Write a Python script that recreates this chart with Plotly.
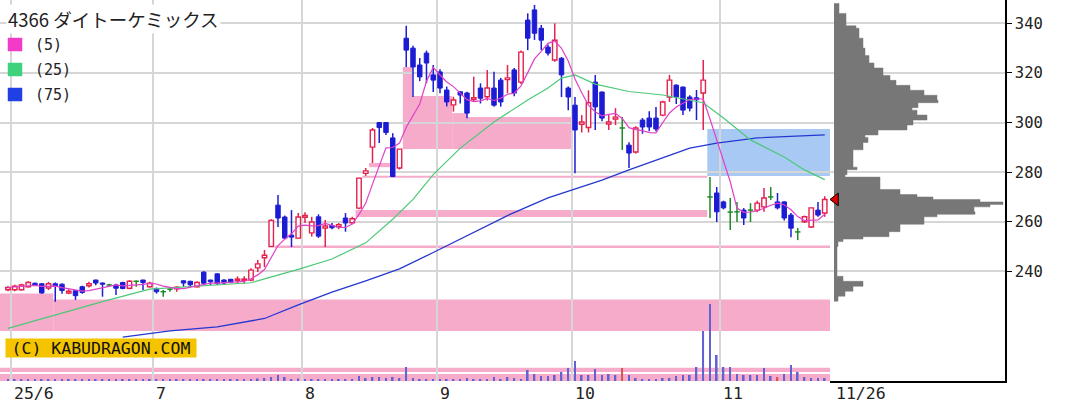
import plotly.graph_objects as go
import pandas as pd

# ---------------- data ----------------
title_text = "4366 ダイトーケミックス"
ma_labels = ["(5)", "(25)", "(75)"]
month_labels = ["25/6", "7", "8", "9", "10", "11"]
month_start_idx = [1, 22, 44, 64, 84, 106]
last_date_label = "11/26"
price_ticks = [240, 260, 280, 300, 320, 340]

opens = [
    232.6, 232.6, 232.6, 233.8, 235.2, 235.0, 233.3, 235.0, 234.8, 231.3,
    232.2, 233.8, 234.2, 236.5, 235.3, 234.5, 234.5, 235.5, 233.2, 236.0,
    236.5, 233.8, 233.1, 231.8, 232.8, 233.0, 236.2, 236.0, 233.8, 239.7,
    236.5, 239.0, 236.5, 236.8, 236.4, 236.4, 236.5, 241.4, 245.5, 250.0,
    266.7, 261.9, 254.6, 253.4, 261.8, 255.5, 262.0, 257.5, 258.5, 258.0,
    261.5, 259.6, 265.5, 279.5, 290.1, 300.0, 300.0, 293.8, 281.7, 334.0,
    330.0, 323.2, 328.0, 319.2, 320.4, 313.1, 307.1, 312.4, 311.9, 309.3,
    313.9, 310.4, 313.9, 317.1, 317.3, 321.2, 316.3, 341.3, 345.4, 338.0,
    330.4, 325.2, 325.9, 313.9, 307.0, 299.3, 298.0, 316.3, 312.3, 299.4,
    301.4, 297.8, 290.9, 288.1, 301.0, 301.8, 301.8, 303.0, 310.3, 315.1,
    314.3, 310.3, 310.0, 311.9, 270.0, 271.6, 268.0, 263.9, 264.0, 264.7,
    264.7, 264.7, 266.0, 270.0, 268.0, 268.0, 262.7, 255.9, 260.0, 257.9,
    264.7, 263.5]
highs = [
    234.0, 234.6, 235.0, 236.0, 235.5, 235.3, 235.8, 235.5, 235.2, 232.8,
    232.5, 234.2, 235.8, 236.6, 235.5, 235.0, 235.0, 235.8, 236.5, 236.3,
    236.6, 235.8, 233.5, 232.5, 233.5, 234.0, 236.4, 236.2, 236.0, 240.0,
    236.6, 239.2, 236.8, 237.0, 238.0, 238.0, 241.3, 244.6, 248.6, 261.0,
    270.8, 262.5, 264.7, 263.5, 263.8, 262.0, 263.0, 260.7, 259.5, 259.5,
    263.5, 262.0, 277.7, 281.7, 297.8, 300.2, 300.2, 295.7, 289.3, 339.0,
    331.0, 326.0, 329.0, 323.2, 321.5, 314.5, 310.4, 312.6, 312.4, 318.5,
    315.8, 321.2, 320.5, 318.0, 323.2, 322.0, 329.0, 344.0, 347.4, 339.3,
    331.5, 340.0, 326.4, 314.5, 310.3, 303.0, 313.0, 319.2, 312.5, 303.0,
    305.8, 302.2, 292.1, 298.5, 301.8, 304.5, 306.3, 308.8, 319.2, 315.3,
    314.5, 311.0, 313.1, 325.2, 278.0, 274.0, 268.5, 269.6, 268.0, 265.5,
    267.5, 268.5, 273.6, 274.0, 271.6, 268.2, 263.5, 257.5, 262.5, 265.6,
    268.0, 270.3]
lows = [
    232.0, 232.0, 232.3, 233.5, 234.2, 231.0, 232.5, 227.8, 231.0, 230.8,
    228.5, 231.0, 233.5, 234.4, 229.8, 234.0, 230.5, 232.8, 232.8, 233.8,
    232.5, 233.5, 231.0, 229.8, 231.8, 231.8, 233.8, 233.6, 233.5, 234.8,
    234.5, 234.5, 234.6, 235.2, 235.2, 235.0, 236.0, 239.7, 241.7, 249.8,
    257.9, 253.0, 249.8, 253.0, 259.5, 254.0, 253.5, 249.8, 257.0, 257.0,
    256.0, 259.0, 265.0, 278.5, 283.7, 291.7, 295.0, 278.0, 281.0, 322.4,
    310.3, 316.7, 315.9, 312.3, 311.8, 306.5, 304.4, 307.7, 301.7, 308.5,
    307.7, 308.9, 306.4, 306.4, 311.8, 310.6, 315.5, 329.2, 333.3, 329.2,
    327.0, 324.5, 310.3, 305.0, 279.6, 296.0, 296.0, 297.0, 300.5, 297.0,
    299.0, 288.9, 281.7, 287.5, 295.5, 296.5, 296.5, 302.5, 308.3, 307.5,
    303.0, 304.5, 301.0, 297.0, 261.5, 259.9, 265.0, 256.7, 259.9, 258.7,
    259.9, 263.8, 264.0, 268.8, 265.0, 260.5, 253.8, 252.6, 259.5, 257.5,
    262.0, 262.0]
closes = [
    233.5, 234.0, 234.5, 235.5, 234.4, 231.3, 235.0, 234.2, 232.3, 232.0,
    230.2, 231.5, 235.0, 235.3, 234.8, 234.5, 233.2, 233.1, 236.0, 236.0,
    235.5, 235.2, 231.8, 231.8, 232.8, 233.6, 235.3, 234.6, 235.5, 235.2,
    235.8, 235.2, 235.3, 235.6, 236.9, 236.9, 240.5, 243.0, 246.5, 260.5,
    261.5, 253.4, 253.8, 261.9, 262.5, 259.9, 254.2, 258.3, 257.6, 258.8,
    259.5, 261.2, 277.6, 280.5, 297.0, 298.0, 296.0, 278.2, 289.3, 329.2,
    322.4, 318.4, 324.0, 317.1, 313.9, 308.3, 309.1, 311.1, 303.8, 310.0,
    309.8, 313.9, 307.0, 308.3, 318.0, 311.9, 328.4, 334.0, 336.0, 333.2,
    328.0, 333.2, 319.2, 310.3, 297.0, 300.2, 308.0, 306.3, 301.8, 300.2,
    302.2, 297.8, 287.7, 297.8, 298.2, 298.2, 297.4, 308.3, 317.1, 310.3,
    305.0, 305.8, 309.2, 317.1, 270.0, 264.0, 265.6, 263.9, 264.0, 261.5,
    264.7, 267.5, 269.6, 270.0, 265.6, 261.5, 257.4, 255.9, 262.0, 265.6,
    262.7, 269.0]
volumes = [
    15, 15, 15, 15, 15, 20, 15, 20, 15, 15, 20, 15, 15, 15, 20, 15, 15, 15,
    15, 15, 15, 15, 15, 15, 15, 15, 15, 15, 15, 20, 15, 20, 15, 15, 15, 15,
    20, 25, 30, 40, 60, 40, 20, 25, 20, 20, 20, 20, 15, 15, 20, 20, 50, 30,
    40, 40, 30, 40, 30,
    140, 30, 20, 20, 20, 20, 20, 15, 20, 30, 20, 20, 20, 40, 20, 40, 30, 20,
    110, 70, 50, 50, 60, 90, 130, 200, 60, 60, 120, 60, 70, 60, 130, 60, 30,
    20, 20, 20, 30, 30, 50, 60, 60, 140, 500, 770, 260, 140, 140, 70, 60, 60,
    60, 130, 50, 40, 70, 160, 90, 40, 30, 30, 30]
vol_red_idx = [91, 114]

ma25_idx = [0, 6, 14, 21, 28, 36, 38, 43, 48, 53, 57, 60, 63, 67, 72, 77, 80,
            82, 84, 87, 92, 97, 103, 106, 110, 115, 118, 121]
ma25_val = [217.0, 221.7, 227.8, 232.8, 234.1, 235.4, 237.0, 240.8, 245.0,
            251.5, 261.0, 269.0, 279.0, 289.7, 300.2, 309.1, 313.9, 317.9,
            319.2, 315.5, 312.5, 311.1, 308.0, 301.8, 293.0, 286.1, 280.9, 277.0]
ma75_idx = [17, 24, 31, 38, 43, 48, 53, 58, 63, 68, 74, 80, 88, 92, 101, 105,
            111, 121]
ma75_val = [213.5, 216.0, 217.6, 221.0, 226.5, 231.6, 236.2, 241.0, 247.6,
            254.5, 262.5, 269.6, 276.8, 280.9, 289.7, 291.7, 293.8, 295.0]

# price profile (volume by price), one value per 1-yen bin from profile_price_low
profile_price_low = 228
profile_vol = [
    4, 4, 11, 11, 19, 19, 29, 29, 9, 9,
    3, 3, 3, 3, 3, 3, 3, 3, 3, 3,
    3, 3, 4, 4, 9, 29, 55, 55, 66, 66,
    66, 90, 90, 90, 103, 141, 140, 140, 156, 169,
    146, 99, 83, 66, 66, 46, 46, 46, 46, 46,
    11, 13, 13, 23, 19, 19, 19, 19, 19, 19,
    19, 29, 29, 29, 34, 34, 31, 44, 44, 73,
    73, 79, 79, 93, 93, 83, 83, 78, 84, 84,
    104, 103, 103, 90, 90, 76, 76, 62, 62, 56,
    56, 49, 49, 49, 40, 40, 35, 35, 35, 31,
    31, 31, 29, 29, 29, 29, 25, 25, 25, 25,
    22, 12, 12, 12, 12, 12, 5, 5, 5, 5]

# price gaps (windows); end None = still open to the right edge
gap_start = [None, 6.7, 39.5, 51.5, 52.5, 53.5, 58.5, 59.85, 65.8, 68.0, 103.6]
gap_end = [6.7, None, None, 103.6, 103.6, 56.6, 59.85, 65.8, 68.0, 83.55, None]
gap_low = [216.0, 216.0, 249.4, 261.9, 277.7, 282.0, 289.3, 289.3, 289.3, 289.3, 278.4]
gap_high = [231.1, 228.7, 250.4, 264.7, 278.5, 283.7, 322.4, 310.7, 303.8, 302.2, 297.4]
gap_dir = ["up"] * 10 + ["down"]

vol_band_low = [0, 90]
vol_band_high = [70, 133]

# ---------------- layout constants ----------------
W, H = 1005, 381          # plot area in px
X_LO, X_HI = -1.185, 121.78
MAIN_FRAC = 830 / W
RED, BLUE, GREEN = "#e4224e", "#1c1cd4", "#1f8a2a"
PINK_BAND, BLUE_BAND = "#f6abcb", "#a9c9f5"
GRID = "#d6d6d6"
MONO = "DejaVu Sans Mono"


def fx(px):
    return px / W


def fy(py):
    return (H - py) / H


n = len(closes)
idx = list(range(n))
ma5 = pd.Series(closes).rolling(5, min_periods=1).mean().tolist()

up = [i for i in idx if closes[i] > opens[i]]
down = [i for i in idx if closes[i] < opens[i]]
doji = [i for i in idx if closes[i] == opens[i]]


def wicks(ids):
    xs, ys = [], []
    for i in ids:
        lo_b, hi_b = min(opens[i], closes[i]), max(opens[i], closes[i])
        xs += [i, i, None, i, i, None]
        ys += [lows[i], lo_b, None, hi_b, highs[i], None]
    return xs, ys


def doji_lines(ids):
    xs, ys = [], []
    for i in ids:
        xs += [i, i, None, i - 0.4, i + 0.4, None]
        ys += [lows[i], highs[i], None, closes[i], closes[i], None]
    return xs, ys


def profile_outline():
    xs, ys = [0], [profile_price_low]
    for k, v in enumerate(profile_vol):
        xs += [v, v]
        ys += [profile_price_low + k, profile_price_low + k + 1]
    xs.append(0)
    ys.append(profile_price_low + len(profile_vol))
    return xs, ys


fig = go.Figure()

# volume
fig.add_trace(go.Bar(
    x=idx, y=volumes, width=0.24, xaxis="x", yaxis="y2",
    marker=dict(color=["#d45858" if i in vol_red_idx else "#6262d4" for i in idx],
                line=dict(width=0)),
    hoverinfo="skip", showlegend=False))

# candles: wicks
for ids, col in ((up, RED), (down, BLUE)):
    wx, wy = wicks(ids)
    fig.add_trace(go.Scatter(x=wx, y=wy, mode="lines", line=dict(color=col, width=1.5),
                             xaxis="x", yaxis="y", hoverinfo="skip", showlegend=False))
dx, dy = doji_lines(doji)
fig.add_trace(go.Scatter(x=dx, y=dy, mode="lines", line=dict(color=GREEN, width=1.5),
                         xaxis="x", yaxis="y", hoverinfo="skip", showlegend=False))

# candles: bodies
fig.add_trace(go.Bar(
    x=up, y=[closes[i] - opens[i] for i in up], base=[opens[i] for i in up],
    width=0.66, xaxis="x", yaxis="y",
    marker=dict(color="white", line=dict(color=RED, width=1.4)),
    hoverinfo="skip", showlegend=False))
fig.add_trace(go.Bar(
    x=down, y=[opens[i] - closes[i] for i in down], base=[closes[i] for i in down],
    width=0.66, xaxis="x", yaxis="y",
    marker=dict(color=BLUE, line=dict(color=BLUE, width=1)),
    hoverinfo="skip", showlegend=False))

# moving averages
fig.add_trace(go.Scatter(x=ma75_idx, y=ma75_val, mode="lines", line=dict(color="#2438d0", width=1.3),
                         xaxis="x", yaxis="y", hoverinfo="skip", showlegend=False))
fig.add_trace(go.Scatter(x=ma25_idx, y=ma25_val, mode="lines", line=dict(color="#4cc878", width=1.2),
                         xaxis="x", yaxis="y", hoverinfo="skip", showlegend=False))
fig.add_trace(go.Scatter(x=idx, y=ma5, mode="lines", line=dict(color="#e040c8", width=1.2),
                         xaxis="x", yaxis="y", hoverinfo="skip", showlegend=False))

# price profile (step outline filled)
px_, py_ = profile_outline()
fig.add_trace(go.Scatter(
    x=px_, y=py_, mode="lines", fill="toself", fillcolor="#777777",
    line=dict(color="#777777", width=0.5), xaxis="x2", yaxis="y",
    hoverinfo="skip", showlegend=False))

# current price marker
fig.add_trace(go.Scatter(
    x=[1.5], y=[closes[-1]], mode="markers", xaxis="x2", yaxis="y", cliponaxis=False,
    marker=dict(symbol="triangle-left", size=11, color="#e00000", line=dict(color="black", width=1)),
    hoverinfo="skip", showlegend=False))

shapes = []
for s, e, lo, hi, d in zip(gap_start, gap_end, gap_low, gap_high, gap_dir):
    shapes.append(dict(type="rect", xref="x", yref="y",
                       x0=X_LO if s is None else s, x1=X_HI if e is None else e,
                       y0=lo, y1=hi, fillcolor=PINK_BAND if d == "up" else BLUE_BAND,
                       line=dict(width=0), layer="below"))
for lo, hi in zip(vol_band_low, vol_band_high):
    shapes.append(dict(type="rect", xref="x", yref="y2", x0=X_LO, x1=X_HI, y0=lo, y1=hi,
                       fillcolor=PINK_BAND, line=dict(width=0), layer="below"))

# legend box and colour squares
shapes.append(dict(type="rect", xref="paper", yref="paper", x0=fx(5), x1=fx(78),
                   y0=fy(106), y1=fy(31), fillcolor="white", line=dict(width=0), layer="below"))
for k, col in enumerate(["#f23cc8", "#3ed27c", "#2040e4"]):
    top = 38 + 25 * k
    shapes.append(dict(type="rect", xref="paper", yref="paper", x0=fx(8), x1=fx(22),
                       y0=fy(top + 13), y1=fy(top), fillcolor=col,
                       line=dict(color=col, width=0.5), layer="above"))

annotations = [
    dict(text=title_text, xref="paper", yref="paper", x=fx(6), y=fy(19), xanchor="left",
         yanchor="middle", showarrow=False, bgcolor="white", borderpad=1,
         font=dict(family="Noto Sans CJK JP", size=18.5, color="#222222")),
    dict(text="(C) KABUDRAGON.COM", xref="paper", yref="paper", x=fx(5), y=fy(348),
         xanchor="left", yanchor="middle", showarrow=False, bgcolor="#f5c400",
         width=188, height=16, align="center", borderpad=1,
         font=dict(family=MONO, size=16.5, color="#111111")),
]
for k, lab in enumerate(ma_labels):
    annotations.append(dict(text=lab, xref="paper", yref="paper", x=fx(33), y=fy(45 + 25 * k),
                            xanchor="left", yanchor="middle", showarrow=False,
                            font=dict(family=MONO, size=15, color="#222222")))
for s, lab in zip(month_start_idx, month_labels):
    annotations.append(dict(text=lab, xref="x", yref="paper", x=s - 0.5, y=0, xanchor="left",
                            yanchor="middle", xshift=1, yshift=-12, showarrow=False,
                            font=dict(family=MONO, size=16.5, color="#222222")))
annotations.append(dict(text=last_date_label, xref="x", yref="paper", x=X_HI, y=0,
                        xanchor="left", yanchor="middle", xshift=4, yshift=-12, showarrow=False,
                        font=dict(family=MONO, size=16.5, color="#222222")))

fig.update_layout(
    width=1080, height=413,
    margin=dict(l=0, r=75, t=0, b=32),
    paper_bgcolor="white", plot_bgcolor="white",
    barmode="overlay", showlegend=False,
    xaxis=dict(domain=[0, MAIN_FRAC], range=[X_LO, X_HI], anchor="y",
               tickvals=[s - 0.5 for s in month_start_idx], showticklabels=False, ticks="",
               showgrid=True, gridcolor=GRID, gridwidth=2, zeroline=False, showline=False),
    xaxis2=dict(domain=[MAIN_FRAC, 1], range=[-4, 171], anchor="y",
                showticklabels=False, ticks="", showgrid=False, zeroline=False,
                showline=True, linecolor="black", linewidth=1.5),
    yaxis=dict(domain=[0, 1], range=[195.8, 349.4], anchor="x2", side="right",
               tickvals=price_ticks, showgrid=True, gridcolor=GRID, gridwidth=2,
               zeroline=False, showline=True, linecolor="black", linewidth=1.5,
               ticks="outside", ticklen=5, tickcolor="black",
               tickfont=dict(family=MONO, size=15.5, color="#222222")),
    yaxis2=dict(overlaying="y", anchor="x", range=[0, 3810], visible=False),
    shapes=shapes, annotations=annotations,
)

fig.write_html("out.html", config={"displayModeBar": False},
               post_script="document.body.style.margin='0';")
